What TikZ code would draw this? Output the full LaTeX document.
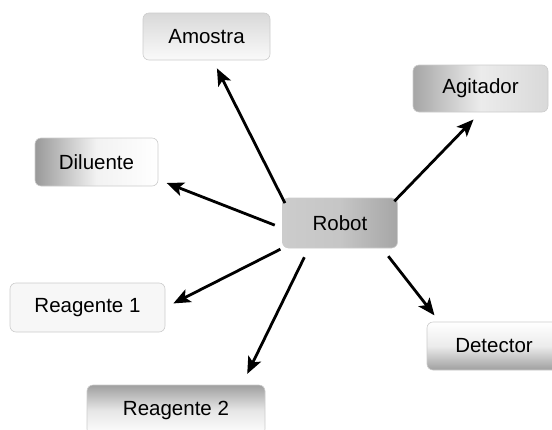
\documentclass[tikz,border=0pt]{standalone}
\usepackage{fontspec}
\setmainfont{Liberation Sans}
\usetikzlibrary{arrows.meta}
\begin{document}
\begin{tikzpicture}[x=1pt,y=-1pt,
  box/.style={rounded corners=6pt, minimum height=48pt, draw=gray!40, line width=0.6pt,
    font=\fontsize{20.5}{24}\selectfont, inner sep=0pt},
  arr/.style={line width=2.8pt, -{Stealth[length=17pt,width=14pt,inset=4pt]}}]
\clip (0,0) rectangle (552,429);
\useasboundingbox (0,0) rectangle (552,429);
\node[box, minimum width=127pt, minimum height=47pt, shading angle=45, top color=gray!30, bottom color=gray!4] (amostra) at (206.5,36.5) {Amostra};
\node[box, minimum width=135pt, minimum height=47pt, left color=gray!70, right color=gray!30, middle color=gray!15] (agitador) at (480.5,88.5) {Agitador};
\node[box, minimum width=123pt, left color=gray!80, right color=white, middle color=gray!10] (diluente) at (96.5,162) {Diluente};
\node[box, minimum width=115pt, minimum height=50pt, left color=gray!40, right color=gray!70, middle color=gray!45] (robot) at (340,223) {Robot};
\node[box, minimum width=155pt, minimum height=49pt, fill=gray!6] (reagente1) at (87.5,307.5) {Reagente 1};
\node[box, minimum width=178pt, minimum height=50pt, shading angle=135, top color=gray!75, bottom color=white, middle color=gray!20] (reagente2) at (176,410) {Reagente 2};
\node[box, minimum width=134pt, top color=white, bottom color=gray!75, middle color=gray!15] (detector) at (494,346) {Detector};
\draw[arr, shorten <=-6pt, shorten >=9pt] (robot.north west) -- (amostra.-75);
\draw[arr, shorten <=-5pt, shorten >=10pt] (robot.north east) -- (agitador.south);
\draw[arr, shorten <=8pt, shorten >=9pt] (robot.185) -- (diluente.-16);
\draw[arr, shorten <=2pt, shorten >=9pt] (robot.south west) -- (reagente1.east);
\draw[arr, shorten <=10pt, shorten >=12pt] (robot.-141) -- (reagente2.21);
\draw[arr, shorten <=10pt, shorten >=8pt] (robot.-31) -- (detector.156);
\end{tikzpicture}
\end{document}
